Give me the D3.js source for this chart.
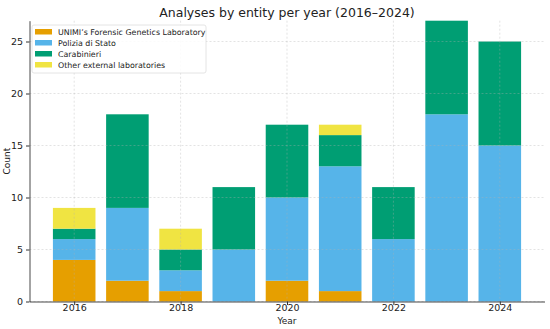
<!DOCTYPE html>
<html><head><meta charset="utf-8">
<script src="https://cdn.jsdelivr.net/npm/d3@7"></script>
<style>body{margin:0;background:#fff}svg{display:block;font-family:"DejaVu Sans",sans-serif}</style>
</head><body><svg id="c" width="550" height="329"></svg>
<script>
const years = [2016,2017,2018,2019,2020,2021,2022,2023,2024];
const seriesNames = ["UNIMI’s Forensic Genetics Laboratory","Polizia di Stato","Carabinieri","Other external laboratories"];
const unimi = [4,2,1,0,2,1,0,0,0];
const polizia = [2,7,2,5,8,12,6,18,15];
const carabinieri = [1,9,2,6,7,3,5,9,10];
const other = [2,0,2,0,0,1,0,0,0];
const colors = ["#E69F00","#56B4E9","#009E73","#F0E442"];
const yTicks = [0,5,10,15,20,25];
const xTicks = [2016,2018,2020,2022,2024];

const svg = d3.select("#c");
const m = {l:29.5, r:5.5, t:20.7, b:27.5};
const W = 550, H = 329;
const x = d3.scaleLinear().domain([2015.16,2024.84]).range([m.l, W-m.r]);
const y = d3.scaleLinear().domain([0,27]).range([H-m.b, m.t]);

const rows = years.map((yr,i)=>({year:yr, s0:unimi[i], s1:polizia[i], s2:carabinieri[i], s3:other[i]}));
const stack = d3.stack().keys(["s0","s1","s2","s3"])(rows);

const g = svg.append("g");
stack.forEach((layer,k)=>{
  g.selectAll(null).data(layer.filter(d=>d[1]>d[0])).enter().append("rect")
    .attr("x", d=>x(d.data.year-0.4))
    .attr("width", d=>x(d.data.year+0.4)-x(d.data.year-0.4))
    .attr("y", d=>y(d[1]))
    .attr("height", d=>y(d[0])-y(d[1]))
    .attr("fill", colors[k]);
});

// grid
const grid = svg.append("g").attr("stroke","#b0b0b0").attr("stroke-opacity",0.45).attr("stroke-dasharray","2,2").attr("stroke-width",0.8);
yTicks.forEach(t=>grid.append("line").attr("x1",m.l).attr("x2",W-m.r).attr("y1",y(t)).attr("y2",y(t)));
xTicks.forEach(t=>grid.append("line").attr("x1",x(t)).attr("x2",x(t)).attr("y1",m.t).attr("y2",H-m.b));

// axes
const xAxis = svg.append("g").attr("transform",`translate(0,${H-m.b})`)
  .call(d3.axisBottom(x).tickValues(xTicks).tickFormat(d3.format("d")).tickSize(3.5).tickSizeOuter(0));
const yAxis = svg.append("g").attr("transform",`translate(${m.l},0)`)
  .call(d3.axisLeft(y).tickValues(yTicks).tickSize(3.5).tickSizeOuter(0));
[xAxis,yAxis].forEach(a=>{
  a.selectAll("text").attr("font-size","9.5px").attr("fill","#222").attr("font-family","DejaVu Sans");
  a.select(".domain").attr("stroke","#333").attr("stroke-width",0.9);
  a.selectAll(".tick line").attr("stroke","#333");
});
xAxis.selectAll("text").attr("y",6).attr("dy","0.35em");

svg.append("text").attr("x",(m.l+W-m.r)/2).attr("y",17).attr("text-anchor","middle")
  .attr("font-size","12.5px").attr("fill","#222").text("Analyses by entity per year (2016–2024)");
svg.append("text").attr("x",(m.l+W-m.r)/2).attr("y",324).attr("text-anchor","middle")
  .attr("font-size","9px").attr("fill","#222").text("Year");
svg.append("text").attr("transform",`translate(10,${(m.t+H-m.b)/2}) rotate(-90)`).attr("text-anchor","middle")
  .attr("font-size","9px").attr("fill","#222").text("Count");

// legend
const lg = svg.append("g").attr("transform","translate(32,25)");
lg.append("rect").attr("width",174).attr("height",48).attr("rx",2).attr("fill","#fff").attr("fill-opacity",0.85).attr("stroke","#ddd").attr("stroke-width",0.8);
seriesNames.forEach((n,i)=>{
  lg.append("rect").attr("x",3).attr("y",4+i*11).attr("width",17).attr("height",5.5).attr("fill",colors[i]);
  lg.append("text").attr("x",26).attr("y",10+i*11).attr("font-size","7.9px").attr("fill","#222").text(n);
});
</script></body></html>
